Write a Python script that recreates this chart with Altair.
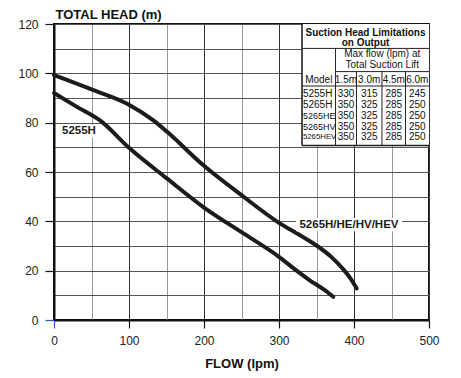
import altair as alt
import pandas as pd

# ---------------- data ----------------
flow_5265 = [0, 50, 100, 132, 150, 200, 250, 300, 330, 350, 370, 385, 395, 403.6]
head_5265 = [99.3, 93.5, 87.3, 81.0, 76.5, 62.5, 50.6, 39.4, 34.0, 30.2, 25.5, 20.8, 17.0, 12.8]
flow_5255 = [0, 30, 63, 100, 150, 200, 250, 300, 320, 340, 360, 372.4]
head_5255 = [92.0, 86.5, 80.5, 69.8, 57.5, 45.6, 35.6, 25.6, 20.8, 16.3, 12.3, 9.4]

curve_labels = ["5255H", "5265H/HE/HV/HEV"]
label_x = [10.7, 393.3]
label_y = [76.7, 38.6]
label_align = ["left", "center"]
label_bg_x = [5.3, 322.7]
label_bg_x2 = [58.7, 464.0]
label_bg_y = [74.0, 36.0]
label_bg_y2 = [79.2, 41.4]

table_title = ["Suction Head Limitations", "on Output"]
sub_header = ["Max flow (lpm) at", "Total Suction Lift"]
lift_cols = ["1.5m", "3.0m", "4.5m", "6.0m"]
models = ["5255H", "5265H", "5265HE", "5265HV", "5265HEV"]
model_font = [10, 10, 9, 9, 7.8]
flow_15 = [330, 350, 350, 350, 350]
flow_30 = [315, 325, 325, 325, 325]
flow_45 = [285, 285, 285, 285, 285]
flow_60 = [245, 250, 250, 250, 250]

# ---------------- table layout (data coordinates) ----------------
col_edges = [330.7, 375.3, 403.3, 437.3, 468.7, 500.0]
y_top, y_title_sep, y_sub_sep, y_head_sep, y_bottom = 120.0, 110.1, 100.7, 94.86, 70.74
y_title = [116.35, 112.3]
y_sub = [107.8, 103.4]
y_head = 97.1
y_rows = [91.42, 86.96, 82.58, 78.32, 74.39]

FONT = "Liberation Sans"

X = alt.Scale(domain=[0, 500], nice=False, zero=False)
Y = alt.Scale(domain=[0, 120], nice=False, zero=False)

x_axis = alt.Axis(
    values=list(range(0, 501, 50)),
    labelExpr="datum.value % 100 == 0 ? datum.label : ''",
    tickOpacity=alt.expr("datum.value % 100 == 0 ? 1 : 0"),
    tickColor=alt.expr("datum.value == 0 ? '#2a57c8' : '#111111'"),
    tickSize=8, tickWidth=1.2,
    grid=True,
    gridColor=alt.expr("datum.value % 100 == 0 ? '#333333' : '#9a9a9a'"),
    gridWidth=1, gridOpacity=1,
    domainColor="#111111", domainWidth=2,
    labelFont=FONT, labelFontSize=12, labelColor="#222222", labelPadding=7,
    labelFlush=False, labelOverlap=False,
    title="FLOW (lpm)", titleFont=FONT, titleFontSize=13, titleFontWeight="bold",
    titleColor="#111111", titleY=43, titleBaseline="middle",
)
y_axis = alt.Axis(
    values=list(range(0, 121, 10)),
    labelExpr="datum.value % 20 == 0 ? datum.label : ''",
    tickOpacity=alt.expr("datum.value % 20 == 0 ? 1 : 0"),
    tickColor=alt.expr("datum.value == 0 ? '#2a57c8' : '#111111'"),
    tickSize=9, tickWidth=1.2,
    grid=True,
    gridColor="#555555", gridWidth=1, gridOpacity=1,
    domainColor="#111111", domainWidth=2,
    labelFont=FONT, labelFontSize=12, labelColor="#222222", labelPadding=7,
    labelOverlap=False,
    title="TOTAL HEAD (m)", titleFont=FONT, titleFontSize=13, titleFontWeight="bold",
    titleColor="#111111", titleAngle=0, titleAlign="left", titleX=1, titleY=-6,
    titleBaseline="alphabetic",
)


def xe(f):
    return alt.X(f, scale=X, axis=x_axis)


def ye(f):
    return alt.Y(f, scale=Y, axis=y_axis)


curves = pd.DataFrame({
    "x": flow_5265 + flow_5255,
    "y": head_5265 + head_5255,
    "model": ["5265H"] * len(flow_5265) + ["5255H"] * len(flow_5255),
})

line_layer = alt.Chart(curves).mark_line(
    color="#1c1c1c", strokeWidth=4, strokeCap="round", strokeJoin="round",
    interpolate="monotone",
).encode(x=xe("x:Q"), y=ye("y:Q"), detail="model:N")

# white backgrounds (curve labels and table)
bg = pd.DataFrame({
    "x": label_bg_x + [col_edges[0]],
    "x2": label_bg_x2 + [col_edges[-1]],
    "y": label_bg_y + [y_bottom],
    "y2": label_bg_y2 + [y_top],
})
bg_layer = alt.Chart(bg).mark_rect(color="white").encode(
    x=xe("x:Q"), x2="x2:Q", y=ye("y:Q"), y2="y2:Q",
)

# table lines
L, R = col_edges[0], col_edges[-1]
rules = pd.DataFrame([
    {"x": L, "x2": L, "y": y_bottom, "y2": y_top, "w": 1.6},
    {"x": L, "x2": R, "y": y_bottom, "y2": y_bottom, "w": 1.6},
    {"x": L, "x2": R, "y": y_title_sep, "y2": y_title_sep, "w": 1.0},
    {"x": col_edges[1], "x2": R, "y": y_sub_sep, "y2": y_sub_sep, "w": 1.0},
    {"x": L, "x2": R, "y": y_head_sep, "y2": y_head_sep, "w": 1.0},
    {"x": col_edges[1], "x2": col_edges[1], "y": y_bottom, "y2": y_title_sep, "w": 1.0},
] + [
    {"x": c, "x2": c, "y": y_bottom, "y2": y_sub_sep, "w": 1.0} for c in col_edges[2:5]
])
rule_layer = alt.Chart(rules).mark_rule(color="#222222").encode(
    x=xe("x:Q"), x2="x2:Q", y=ye("y:Q"), y2="y2:Q",
    strokeWidth=alt.StrokeWidth("w:Q", scale=None, legend=None),
)

center_all = (L + R) / 2
center_flow = (col_edges[1] + R) / 2
col_centers = [(col_edges[i] + col_edges[i + 1]) / 2 for i in range(5)]

title_df = pd.DataFrame({"x": [center_all] * 2, "y": y_title, "t": table_title})
title_layer = alt.Chart(title_df).mark_text(
    font=FONT, fontSize=10, fontWeight="bold", color="#111111", baseline="middle"
).encode(x=xe("x:Q"), y=ye("y:Q"), text="t:N")

sub_df = pd.DataFrame({"x": [center_flow] * 2, "y": y_sub, "t": sub_header})
sub_layer = alt.Chart(sub_df).mark_text(
    font=FONT, fontSize=10, color="#111111", baseline="middle"
).encode(x=xe("x:Q"), y=ye("y:Q"), text="t:N")

head_df = pd.DataFrame({"x": col_centers, "y": [y_head] * 5, "t": ["Model"] + lift_cols})
head_layer = alt.Chart(head_df).mark_text(
    font=FONT, fontSize=10, color="#111111", baseline="middle"
).encode(x=xe("x:Q"), y=ye("y:Q"), text="t:N")

model_df = pd.DataFrame({"x": [L + 1.2] * 5, "y": y_rows, "t": models, "fs": model_font})
model_layer = alt.Chart(model_df).mark_text(
    font=FONT, color="#111111", baseline="middle", align="left"
).encode(x=xe("x:Q"), y=ye("y:Q"), text="t:N",
         size=alt.Size("fs:Q", scale=None, legend=None))

vals = []
for ci, col in enumerate([flow_15, flow_30, flow_45, flow_60]):
    for ri, v in enumerate(col):
        vals.append({"x": col_centers[ci + 1], "y": y_rows[ri], "t": str(v)})
val_layer = alt.Chart(pd.DataFrame(vals)).mark_text(
    font=FONT, fontSize=10, color="#111111", baseline="middle"
).encode(x=xe("x:Q"), y=ye("y:Q"), text="t:N")

lab_df = pd.DataFrame({"x": label_x, "y": label_y, "t": curve_labels, "a": label_align})
lab_left = alt.Chart(lab_df[lab_df.a == "left"]).mark_text(
    font=FONT, fontSize=11.5, fontWeight="bold", color="#1c1c1c", baseline="middle", align="left"
).encode(x=xe("x:Q"), y=ye("y:Q"), text="t:N")
lab_center = alt.Chart(lab_df[lab_df.a == "center"]).mark_text(
    font=FONT, fontSize=11.5, fontWeight="bold", color="#1c1c1c", baseline="middle", align="center"
).encode(x=xe("x:Q"), y=ye("y:Q"), text="t:N")

chart = alt.layer(
    line_layer, bg_layer, rule_layer, title_layer, sub_layer, head_layer,
    model_layer, val_layer, lab_left, lab_center,
).properties(
    width=375, height=296,
    padding={"left": 54, "top": 24, "right": 32, "bottom": 58},
    autosize=alt.AutoSizeParams(type="none"),
    background="white",
).configure_view(stroke="#111111", strokeWidth=2)

chart.save("out.html", embed_options={"renderer": "svg", "actions": False})
